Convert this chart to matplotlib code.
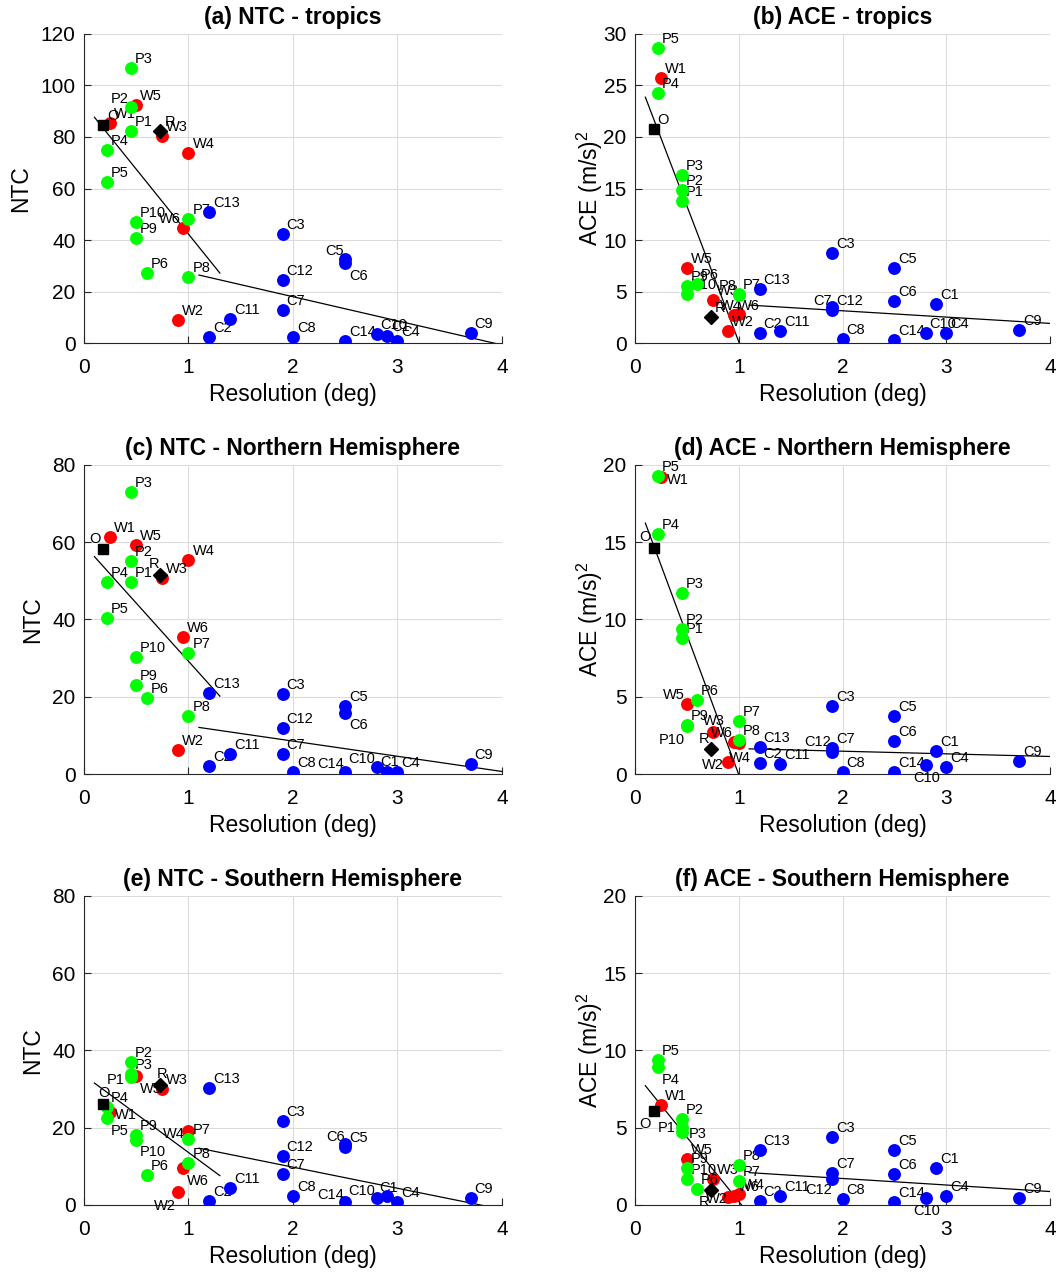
import matplotlib.pyplot as plt
import numpy as np

plt.rcParams['font.family'] = ['Liberation Sans', 'DejaVu Sans']
plt.rcParams['mathtext.fontset'] = 'custom'
plt.rcParams['mathtext.rm'] = 'Liberation Sans'
plt.rcParams['mathtext.it'] = 'Liberation Sans'

# model names and horizontal resolution (deg)
p_names = ['P1', 'P2', 'P3', 'P4', 'P5', 'P6', 'P7', 'P8', 'P9', 'P10']
p_res = [0.45, 0.45, 0.45, 0.22, 0.22, 0.6, 1.0, 1.0, 0.5, 0.5]
w_names = ['W1', 'W2', 'W3', 'W4', 'W5', 'W6']
w_res = [0.25, 0.9, 0.75, 1.0, 0.5, 0.95]
c_names = ['C1', 'C2', 'C3', 'C4', 'C5', 'C6', 'C7', 'C8', 'C9', 'C10', 'C11', 'C12', 'C13', 'C14']
c_res = [2.9, 1.2, 1.9, 3.0, 2.5, 2.5, 1.9, 2.0, 3.7, 2.8, 1.4, 1.9, 1.2, 2.5]
obs_res = 0.18
rean_res = 0.73

# (a) NTC tropics
ntc_trop_obs = 84.5
ntc_trop_rean = 82.3
ntc_trop_p = [82.5, 91.5, 106.8, 75.0, 62.5, 27.1, 48.2, 25.5, 40.9, 47.0]
ntc_trop_w = [85.3, 8.9, 80.3, 73.9, 92.4, 44.5]
ntc_trop_c = [2.7, 2.5, 42.2, 0.9, 32.5, 31.2, 12.8, 2.5, 3.8, 3.4, 9.3, 24.5, 50.9, 0.8]

# (b) ACE tropics
ace_trop_obs = 20.8
ace_trop_rean = 2.55
ace_trop_p = [13.8, 14.85, 16.3, 24.3, 28.6, 5.7, 4.72, 4.65, 5.5, 4.8]
ace_trop_w = [25.7, 1.2, 4.2, 2.85, 7.3, 2.7]
ace_trop_c = [3.75, 0.94, 8.74, 1.0, 7.25, 4.11, 3.5, 0.39, 1.26, 0.94, 1.17, 3.2, 5.24, 0.29]

# (c) NTC Northern Hemisphere
ntc_nh_obs = 58.2
ntc_nh_rean = 51.6
ntc_nh_p = [49.7, 55.1, 73.0, 49.6, 40.3, 19.6, 31.3, 15.0, 23.1, 30.3]
ntc_nh_w = [61.4, 6.2, 50.7, 55.4, 59.3, 35.4]
ntc_nh_c = [0.6, 2.1, 20.6, 0.6, 17.6, 15.7, 5.3, 0.4, 2.6, 1.8, 5.2, 12.0, 21.0, 0.4]

# (d) ACE Northern Hemisphere
ace_nh_obs = 14.6
ace_nh_rean = 1.6
ace_nh_p = [8.8, 9.4, 11.7, 15.5, 19.3, 4.8, 3.4, 2.2, 3.2, 3.1]
ace_nh_w = [19.2, 0.75, 2.7, 2.0, 4.5, 2.05]
ace_nh_c = [1.48, 0.69, 4.41, 0.47, 3.76, 2.15, 1.66, 0.11, 0.86, 0.58, 0.62, 1.40, 1.74, 0.15]

# (e) NTC Southern Hemisphere
ntc_sh_obs = 26.2
ntc_sh_rean = 31.0
ntc_sh_p = [33.1, 37.0, 34.0, 25.4, 22.5, 7.7, 17.2, 10.75, 18.2, 16.8]
ntc_sh_w = [24.1, 3.3, 30.1, 19.1, 33.5, 9.6]
ntc_sh_c = [2.3, 0.9, 21.8, 0.7, 15.1, 15.9, 7.9, 2.2, 1.7, 1.7, 4.5, 12.6, 30.4, 0.7]

# (f) ACE Southern Hemisphere
ace_sh_obs = 6.06
ace_sh_rean = 1.0
ace_sh_p = [5.05, 5.59, 4.69, 8.92, 9.40, 1.01, 1.55, 2.58, 2.37, 1.66]
ace_sh_w = [6.49, 0.49, 1.7, 0.7, 2.95, 0.6]
ace_sh_c = [2.37, 0.26, 4.41, 0.60, 3.55, 2.0, 2.04, 0.39, 0.47, 0.43, 0.58, 1.68, 3.55, 0.22]

# label offsets in pixels (default: up-right of the marker)
default_off = (4, 5)
offsets_a = {'P2': (-20, 4), 'W6': (-24, 5), 'C5': (-20, 4), 'C6': (4, -17)}
offsets_b = {'P8': (-20, 5), 'W4': (-19, 4), 'C7': (-19, 2)}
offsets_c = {'O': (-14, 6), 'R': (-12, 7), 'C6': (4, -16), 'C14': (-28, 4),
             'C10': (-28, 4), 'C1': (-7, 6)}
offsets_d = {'W1': (6, -7), 'O': (-14, 7), 'W5': (-24, 5), 'P10': (-28, -18),
             'W3': (-10, 7), 'W6': (-23, 5), 'R': (-12, 6), 'W2': (-26, -7),
             'W4': (-10, -19), 'C12': (-28, 6), 'C10': (-12, -17)}
offsets_e = {'P1': (-24, -7), 'W5': (4, -17), 'R': (-4, 7), 'O': (-5, 7),
             'W1': (5, -7), 'P5': (4, -17), 'P10': (4, -16), 'W4': (-26, -7),
             'C6': (-19, 3), 'W6': (4, -17), 'W2': (-24, -18), 'C14': (-28, 3),
             'C10': (-28, 3), 'C1': (-8, 4)}
offsets_f = {'P4': (4, -17), 'O': (-14, -17), 'P1': (-24, -5), 'P3': (7, -6),
             'R': (-12, -16), 'W2': (-22, -6), 'C12': (-27, -15), 'C10': (-12, -17)}

panels = [
    ('(a) NTC - tropics', 'NTC', 120, 20, ntc_trop_obs, ntc_trop_rean, ntc_trop_p, ntc_trop_w, ntc_trop_c, offsets_a),
    ('(b) ACE - tropics', r'ACE (m/s)$^2$', 30, 5, ace_trop_obs, ace_trop_rean, ace_trop_p, ace_trop_w, ace_trop_c, offsets_b),
    ('(c) NTC - Northern Hemisphere', 'NTC', 80, 20, ntc_nh_obs, ntc_nh_rean, ntc_nh_p, ntc_nh_w, ntc_nh_c, offsets_c),
    ('(d) ACE - Northern Hemisphere', r'ACE (m/s)$^2$', 20, 5, ace_nh_obs, ace_nh_rean, ace_nh_p, ace_nh_w, ace_nh_c, offsets_d),
    ('(e) NTC - Southern Hemisphere', 'NTC', 80, 20, ntc_sh_obs, ntc_sh_rean, ntc_sh_p, ntc_sh_w, ntc_sh_c, offsets_e),
    ('(f) ACE - Southern Hemisphere', r'ACE (m/s)$^2$', 20, 5, ace_sh_obs, ace_sh_rean, ace_sh_p, ace_sh_w, ace_sh_c, offsets_f),
]

fig = plt.figure(figsize=(10.59, 12.72), dpi=100)
lefts = [0.0793, 0.5996]
widths = [0.3947, 0.392]
bottoms = [0.7303, 0.3915, 0.0527]
height = 0.243

green = (0.0, 1.0, 0.0)


def label(ax, name, x, y, offs):
    dx, dy = offs.get(name, default_off)
    ax.annotate(name, (x, y), xytext=(dx, dy), textcoords='offset pixels',
                fontsize=10.5, ha='left', va='baseline')


for i, (title, ylab, ymax, ystep, obs, rean, pv, wv, cv, offs) in enumerate(panels):
    ax = fig.add_axes([lefts[i % 2], bottoms[i // 2], widths[i % 2], height])

    # regression lines: high-res (P, W) and coarse (C) models
    hx = np.array(p_res + w_res)
    hy = np.array(pv + wv)
    k1 = np.polyfit(hx, hy, 1)
    xx1 = np.array([0.1, 1.3])
    ax.plot(xx1, np.polyval(k1, xx1), color='k', lw=0.9, zorder=2)
    k2 = np.polyfit(np.array(c_res), np.array(cv), 1)
    xx2 = np.array([1.1, 4.0])
    ax.plot(xx2, np.polyval(k2, xx2), color='k', lw=0.9, zorder=2)

    ax.plot(w_res, wv, 'o', color='red', ms=9.3, mec='none', zorder=3)
    ax.plot(p_res, pv, 'o', color=green, ms=9.3, mec='none', zorder=4)
    ax.plot(c_res, cv, 'o', color='blue', ms=9.3, mec='none', zorder=5)
    ax.plot([obs_res], [obs], 's', color='k', ms=6.5, zorder=6)
    ax.plot([rean_res], [rean], 'D', color='k', ms=7, zorder=6)

    for n, x, y in zip(w_names, w_res, wv):
        label(ax, n, x, y, offs)
    for n, x, y in zip(p_names, p_res, pv):
        label(ax, n, x, y, offs)
    for n, x, y in zip(c_names, c_res, cv):
        label(ax, n, x, y, offs)
    label(ax, 'O', obs_res, obs, offs)
    label(ax, 'R', rean_res, rean, offs)

    ax.set_xlim(0, 4)
    ax.set_ylim(0, ymax)
    ax.set_xticks(np.arange(0, 5, 1))
    ax.set_yticks(np.arange(0, ymax + ystep, ystep))
    ax.grid(True, color='#dcdcdc', lw=0.8)
    ax.set_axisbelow(True)
    for s in ['top', 'right']:
        ax.spines[s].set_visible(False)
    for s in ['left', 'bottom']:
        ax.spines[s].set_color('#262626')
        ax.spines[s].set_linewidth(0.8)
    ax.tick_params(direction='in', length=5, labelsize=15, colors='#262626',
                   labelcolor='k', pad=6)
    ax.tick_params(axis='x', pad=11)
    ax.set_xlabel('Resolution (deg)', fontsize=16.5, labelpad=4)
    ax.set_ylabel(ylab, fontsize=16.5, labelpad=6 if ylab == 'NTC' else -1)
    ax.set_title(title, fontsize=16.5, fontweight='bold', pad=7)

fig.savefig('out.png', dpi=100)
